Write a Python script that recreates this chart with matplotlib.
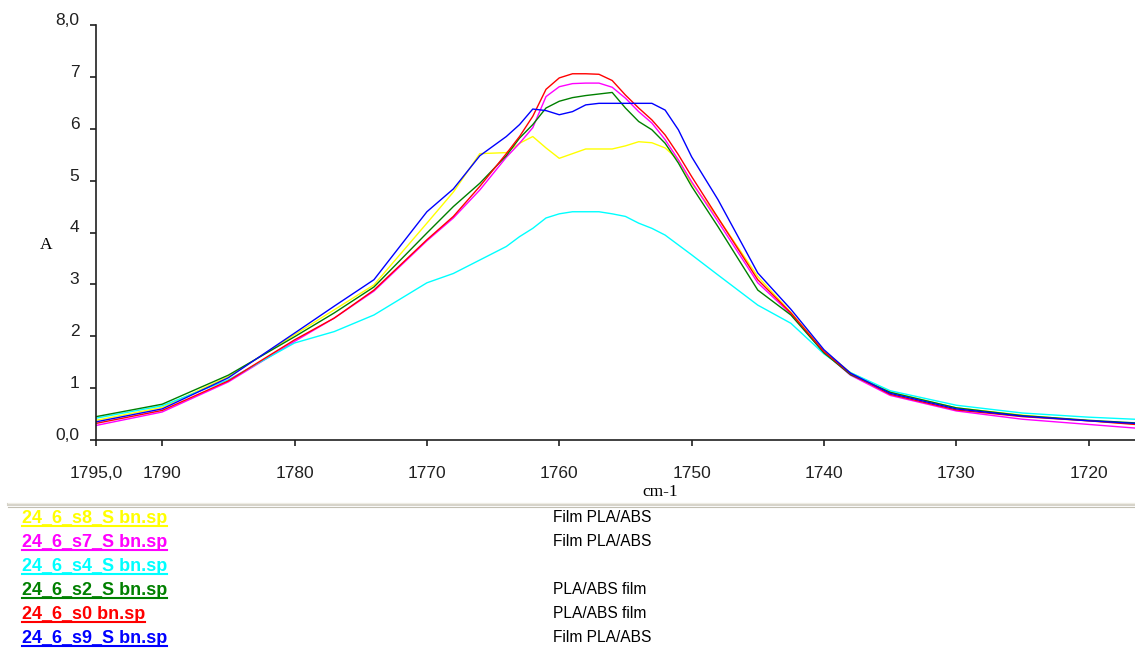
import matplotlib
matplotlib.use("Agg")
import matplotlib.pyplot as plt
from matplotlib.lines import Line2D

# wavenumber grid (cm-1) and absorbance of each spectrum
wavenumber = [1795, 1790, 1785, 1780, 1777, 1774, 1770, 1768, 1766, 1764, 1763, 1762,
              1761, 1760, 1759, 1758, 1757, 1756, 1755, 1754, 1753, 1752, 1751, 1750,
              1748, 1745, 1742.5, 1740, 1738, 1735, 1730, 1725, 1720, 1716.5]

s8 = [0.38, 0.63, 1.22, 2.03, 2.51, 2.99, 4.18, 4.78, 5.52, 5.54, 5.72, 5.85,
      5.63, 5.43, 5.52, 5.61, 5.61, 5.61, 5.67, 5.75, 5.73, 5.63, 5.40, 4.95,
      4.28, 3.15, 2.46, 1.72, 1.30, 0.92, 0.62, 0.48, 0.37, 0.31]
s7 = [0.28, 0.54, 1.12, 1.90, 2.35, 2.87, 3.84, 4.28, 4.82, 5.45, 5.72, 6.02,
      6.62, 6.81, 6.87, 6.88, 6.88, 6.80, 6.59, 6.33, 6.11, 5.79, 5.40, 4.98,
      4.21, 3.03, 2.43, 1.69, 1.25, 0.86, 0.56, 0.40, 0.30, 0.23]
s4 = [0.42, 0.66, 1.16, 1.87, 2.09, 2.41, 3.03, 3.21, 3.47, 3.73, 3.92, 4.08,
      4.28, 4.36, 4.40, 4.40, 4.40, 4.36, 4.31, 4.18, 4.08, 3.95, 3.76, 3.57,
      3.18, 2.60, 2.25, 1.66, 1.30, 0.95, 0.67, 0.52, 0.44, 0.40]
s2 = [0.45, 0.69, 1.25, 1.99, 2.45, 2.95, 3.99, 4.50, 4.95, 5.48, 5.82, 6.08,
      6.40, 6.53, 6.60, 6.64, 6.67, 6.70, 6.40, 6.14, 5.98, 5.72, 5.34, 4.89,
      4.11, 2.89, 2.41, 1.68, 1.26, 0.92, 0.62, 0.47, 0.38, 0.33]
s0 = [0.32, 0.57, 1.14, 1.93, 2.35, 2.89, 3.86, 4.31, 4.89, 5.52, 5.85, 6.24,
      6.76, 6.98, 7.06, 7.06, 7.05, 6.93, 6.65, 6.40, 6.17, 5.88, 5.50, 5.08,
      4.28, 3.09, 2.45, 1.70, 1.28, 0.88, 0.58, 0.45, 0.37, 0.30]
s9 = [0.35, 0.60, 1.20, 2.06, 2.58, 3.09, 4.40, 4.84, 5.48, 5.85, 6.08, 6.38,
      6.35, 6.27, 6.33, 6.46, 6.49, 6.49, 6.49, 6.49, 6.49, 6.36, 5.98, 5.46,
      4.63, 3.22, 2.52, 1.74, 1.29, 0.90, 0.60, 0.46, 0.37, 0.32]

names = ["24_6_s8_S bn.sp", "24_6_s7_S bn.sp", "24_6_s4_S bn.sp",
         "24_6_s2_S bn.sp", "24_6_s0 bn.sp", "24_6_s9_S bn.sp"]
notes = ["Film PLA/ABS", "Film PLA/ABS", "", "PLA/ABS film", "PLA/ABS film", "Film PLA/ABS"]
colors = ["#FFFF00", "#FF00FF", "#00FFFF", "#008000", "#FF0000", "#0000FF"]
spectra = [s8, s7, s4, s2, s0, s9]

yticks = [0, 1, 2, 3, 4, 5, 6, 7, 8]
ytick_labels = ["0,0", "1", "2", "3", "4", "5", "6", "7", "8,0"]
xticks = [1795, 1790, 1780, 1770, 1760, 1750, 1740, 1730, 1720]
xtick_labels = ["1795,0", "1790", "1780", "1770", "1760", "1750", "1740", "1730", "1720"]

W, H = 1135, 648
sans = "Liberation Sans"
fig = plt.figure(figsize=(W / 100, H / 100), dpi=100)
ax = fig.add_axes([96 / W, 1 - 440 / H, 1 - 96 / W, (440 - 25) / H])

for y, c in zip(spectra, colors):
    ax.plot(wavenumber, y, color=c, lw=1.0)

ax.set_xlim(1795, 1716.5)
ax.set_ylim(0, 8)
for side in ["top", "right"]:
    ax.spines[side].set_visible(False)
for side in ["left", "bottom"]:
    ax.spines[side].set_color("#202020")
    ax.spines[side].set_linewidth(1.2)

ax.set_yticks(yticks)
ax.set_yticklabels(ytick_labels, family=sans, fontsize=12.5)
ax.set_xticks(xticks)
ax.set_xticklabels(xtick_labels, family=sans, fontsize=12.5)
ax.tick_params(axis="y", direction="out", length=4, width=1.2, pad=8, colors="#202020")
ax.tick_params(axis="x", direction="out", length=4, width=1.2, pad=15, colors="#202020")
for lbl in ax.get_yticklabels():
    lbl.set_verticalalignment("baseline")

fig.text(46 / W, 1 - 245 / H, "A", family="Liberation Serif", fontsize=12.5,
         ha="center", va="center")
fig.text(660 / W, 1 - 492 / H, "cm-1", family="Liberation Serif", fontsize=12.5,
         ha="center", va="center")

# separator above the file list
fig.add_artist(Line2D([8 / W, 1], [1 - 504 / H] * 2, color="#d6d3c9", lw=2.2))
fig.add_artist(Line2D([8 / W, 1], [1 - 502.5 / H] * 2, color="#eeece4", lw=0.8))
fig.add_artist(Line2D([8 / W, 1], [1 - 506.5 / H] * 2, color="#c2bfb3", lw=0.8))

# file list: coloured names underlined at underscore height
labels = []
for i, (name, note, c) in enumerate(zip(names, notes, colors)):
    base = 523 + 24 * i
    t = fig.text(22 / W, 1 - base / H, name, color=c, fontweight="bold",
                 family=sans, fontsize=13, va="baseline")
    labels.append((t, base))
    if note:
        fig.text(553 / W, 1 - (base - 5) / H, note, color="black", family=sans,
                 fontsize=11.2, va="center")

fig.canvas.draw()
for (t, base), c in zip(labels, colors):
    bb = t.get_window_extent()
    yline = 1 - (base + 2.6) / H
    fig.add_artist(Line2D([bb.x0 / W, bb.x1 / W], [yline, yline], color=c, lw=1.5))

fig.savefig("out.png", dpi=100)
